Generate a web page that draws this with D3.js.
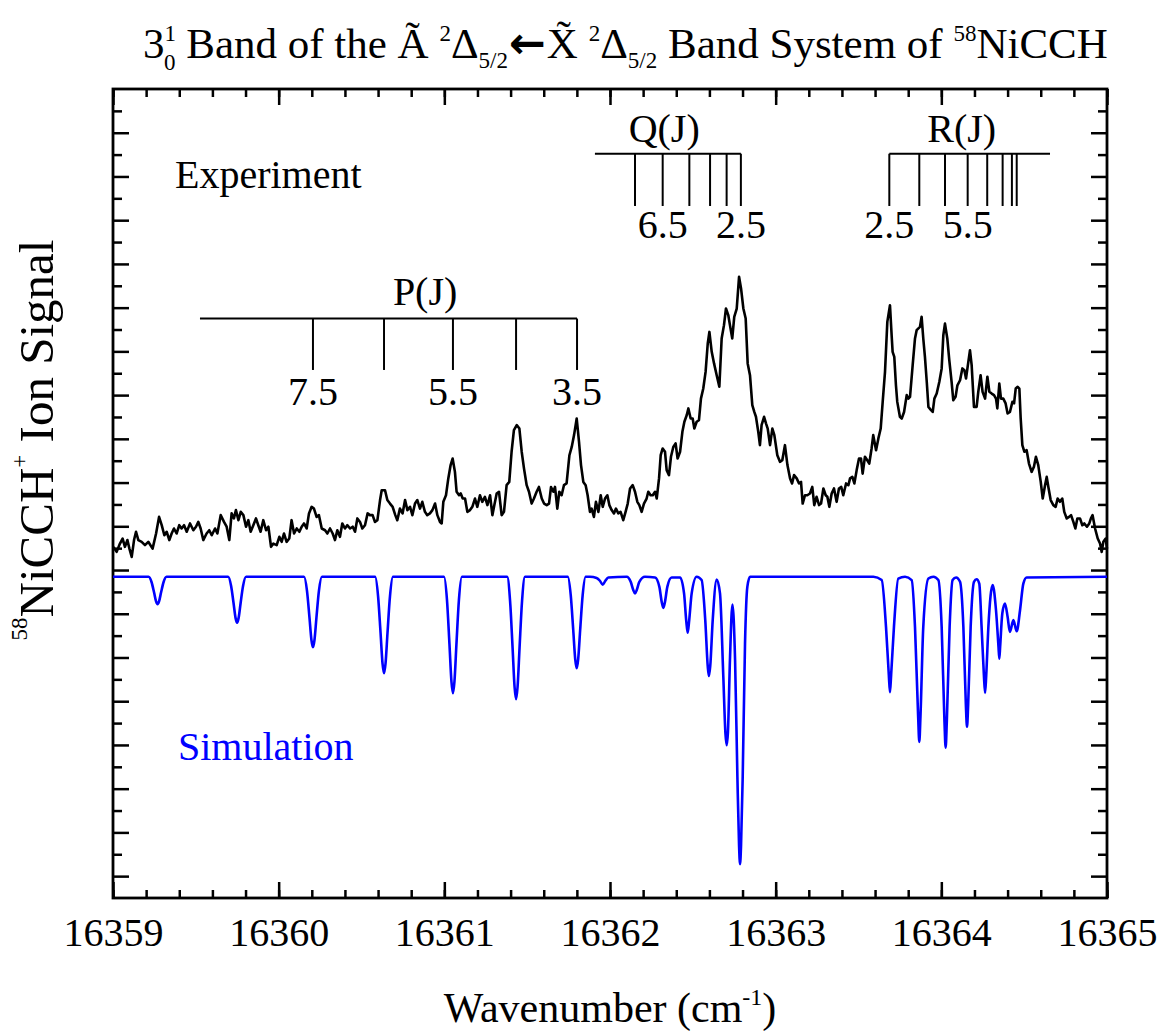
<!DOCTYPE html>
<html><head><meta charset="utf-8">
<script src="https://cdn.jsdelivr.net/npm/d3@7"></script>
<style>
body{margin:0;background:#fff;}
svg text{font-family:"Liberation Serif","Times New Roman",serif;fill:#000;}
</style></head><body>
<svg id="chart" width="1164" height="1033"></svg>
<script>
// ---------------- data ----------------
const xTickValues = [16359, 16360, 16361, 16362, 16363, 16364, 16365];
const xTickLabels = ["16359", "16360", "16361", "16362", "16363", "16364", "16365"];

const expWn = [
16359.002,16359.022,16359.042,16359.058,16359.072,16359.087,16359.099,16359.113,16359.127,16359.139,
16359.153,16359.173,16359.193,16359.213,16359.239,16359.260,16359.278,16359.294,16359.310,16359.324,
16359.340,16359.354,16359.368,16359.384,16359.400,16359.414,16359.429,16359.445,16359.465,16359.485,
16359.501,16359.515,16359.529,16359.545,16359.565,16359.581,16359.596,16359.616,16359.630,16359.650,
16359.670,16359.686,16359.702,16359.716,16359.730,16359.742,16359.757,16359.771,16359.787,16359.803,
16359.817,16359.831,16359.847,16359.863,16359.877,16359.891,16359.907,16359.924,16359.938,16359.954,
16359.968,16359.988,16360.004,16360.018,16360.032,16360.048,16360.064,16360.078,16360.093,16360.109,
16360.125,16360.139,16360.153,16360.169,16360.183,16360.199,16360.213,16360.229,16360.243,16360.260,
16360.280,16360.294,16360.310,16360.326,16360.340,16360.354,16360.370,16360.384,16360.400,16360.414,
16360.431,16360.447,16360.461,16360.475,16360.491,16360.505,16360.521,16360.537,16360.551,16360.567,
16360.581,16360.596,16360.612,16360.622,16360.642,16360.656,16360.672,16360.688,16360.704,16360.716,
16360.732,16360.748,16360.763,16360.777,16360.793,16360.807,16360.823,16360.837,16360.853,16360.867,
16360.883,16360.897,16360.913,16360.928,16360.944,16360.958,
16360.974,16360.984,16360.994,16361.010,16361.024,16361.038,16361.050,16361.064,16361.074,16361.089,
16361.099,16361.111,16361.125,16361.139,16361.155,16361.169,16361.185,16361.199,16361.215,16361.229,
16361.245,16361.260,16361.276,16361.290,16361.302,16361.316,16361.330,16361.346,16361.360,16361.376,
16361.392,16361.406,16361.420,16361.437,16361.453,16361.467,16361.481,16361.497,16361.511,16361.527,
16361.541,16361.557,16361.571,16361.588,16361.602,16361.618,16361.632,16361.644,16361.658,16361.668,
16361.682,16361.694,16361.708,16361.722,16361.738,16361.755,16361.769,16361.783,16361.799,16361.813,
16361.825,16361.839,16361.853,16361.865,16361.879,16361.889,16361.903,16361.915,16361.930,16361.944,
16361.956,16361.970,16361.984,16361.996,16362.010,16362.024,16362.036,16362.050,16362.064,16362.080,
16362.094,16362.107,16362.121,16362.137,16362.151,16362.165,16362.177,16362.191,16362.205,16362.221,
16362.231,16362.245,16362.258,16362.272,16362.282,16362.296,16362.306,16362.318,16362.332,16362.342,
16362.356,16362.368,16362.382,16362.396,16362.408,16362.423,16362.437,16362.449,16362.463,16362.473,
16362.487,16362.499,16362.509,16362.523,16362.537,16362.549,16362.563,16362.577,16362.590,16362.600,
16362.614,16362.628,16362.644,16362.660,16362.674,16362.688,16362.700,16362.714,16362.724,16362.738,
16362.750,16362.765,16362.779,16362.791,16362.805,16362.819,16362.831,16362.845,16362.859,16362.871,
16362.881,16362.895,16362.905,16362.915,16362.930,16362.942,16362.952,16362.966,16362.980,16362.992,
16363.010,16363.026,16363.040,16363.056,16363.071,16363.087,16363.099,16363.111,16363.127,16363.141,
16363.153,16363.163,16363.177,16363.191,16363.207,16363.221,16363.233,16363.247,16363.262,16363.274,
16363.288,16363.302,16363.312,16363.324,16363.338,16363.352,16363.368,16363.382,16363.396,16363.408,
16363.425,16363.439,16363.449,16363.463,16363.475,16363.489,16363.503,16363.515,16363.525,16363.539,
16363.553,16363.565,16363.579,16363.589,16363.606,16363.620,16363.634,16363.646,16363.660,16363.674,
16363.690,16363.700,16363.706,16363.716,16363.726,16363.734,16363.750,16363.761,16363.775,16363.791,
16363.801,16363.811,16363.827,16363.841,16363.851,16363.871,16363.881,16363.891,16363.901,16363.912,
16363.922,16363.938,16363.948,16363.958,16363.972,16363.988,16364.002,16364.012,16364.022,16364.036,
16364.048,16364.062,16364.072,16364.086,16364.097,16364.113,16364.127,16364.139,16364.149,16364.163,
16364.173,16364.183,16364.197,16364.213,16364.223,16364.237,16364.249,16364.264,16364.278,16364.290,
16364.304,16364.318,16364.330,16364.338,16364.350,16364.360,16364.374,16364.388,16364.400,16364.414,
16364.429,16364.439,16364.449,16364.461,16364.471,16364.479,16364.489,16364.501,16364.515,16364.529,
16364.545,16364.559,16364.571,16364.585,16364.600,16364.612,16364.626,16364.636,16364.646,16364.660,
16364.676,16364.690,16364.702,16364.716,16364.730,16364.742,16364.757,16364.771,16364.783,16364.797,
16364.809,16364.821,16364.837,16364.851,16364.863,16364.879,16364.893,16364.903,16364.913,16364.928,
16364.944,16364.958,16364.968,16364.978,16364.992,16365.000
];
const expSignal = [
15.06,14.83,15.21,15.44,15.06,15.37,14.98,14.60,15.37,15.75,
15.37,15.29,15.14,15.29,14.98,15.67,16.43,16.05,15.59,15.75,
15.37,15.67,15.90,15.67,16.05,15.90,16.05,15.75,16.13,15.82,
15.98,16.20,15.90,15.37,15.67,15.82,15.59,15.90,15.67,16.51,
16.20,15.98,15.37,16.59,16.36,16.74,16.28,16.66,16.51,15.98,
16.28,15.75,16.05,16.36,16.05,15.75,16.28,15.82,15.98,15.06,
15.21,15.14,15.52,15.29,15.67,15.29,15.44,16.28,15.67,15.90,
15.75,15.98,16.13,15.90,16.59,16.89,16.81,16.43,16.51,15.90,
15.82,15.67,15.90,15.67,15.37,15.82,15.52,16.13,15.90,16.05,
15.90,15.98,15.75,16.36,16.20,15.90,16.05,16.59,16.51,16.51,
16.20,16.28,17.20,17.65,17.65,17.20,17.04,16.89,16.51,16.28,
16.81,16.59,17.20,16.74,16.89,16.51,17.04,17.20,16.81,17.12,
16.66,16.51,16.59,16.74,17.04,16.51,
16.20,16.13,17.12,17.42,18.19,18.80,19.10,18.49,17.58,17.42,
17.50,17.27,17.27,16.66,16.74,16.89,17.27,16.89,17.42,17.12,
17.35,16.97,17.42,16.51,16.97,17.50,17.58,16.51,16.66,17.88,
18.03,19.41,20.40,20.63,20.47,19.41,18.64,17.88,17.58,17.04,
17.27,17.58,17.80,17.27,17.04,16.97,17.04,17.80,17.58,17.80,
16.81,17.58,17.42,17.88,17.96,19.25,19.63,20.17,20.93,19.86,
18.80,18.03,17.88,17.42,16.66,16.81,16.43,17.12,16.66,17.42,
16.89,17.27,17.42,16.97,16.74,16.59,16.81,16.59,16.66,16.28,
16.66,17.04,17.73,17.88,17.58,17.12,16.97,16.66,17.04,17.27,
17.58,17.42,17.42,17.58,17.27,18.19,19.25,19.56,19.41,18.57,
18.34,19.18,19.63,19.79,19.10,19.41,20.32,20.78,21.08,21.39,
20.93,20.93,20.47,20.78,20.85,21.84,22.30,23.06,24.36,24.89,
23.98,23.45,22.91,22.38,24.59,25.20,25.96,25.66,25.20,24.59,
25.58,25.96,27.41,26.88,25.96,25.50,23.45,22.91,21.54,21.23,
21.01,20.32,19.71,20.63,21.01,20.70,20.47,19.71,20.47,20.17,
19.25,18.95,19.02,19.71,18.80,18.19,17.96,18.34,18.19,17.96,
18.03,17.04,17.42,17.42,17.50,17.80,16.97,17.35,16.97,17.04,
17.73,17.42,17.35,16.89,17.50,17.73,17.12,17.73,17.80,17.42,
17.96,17.88,18.19,18.26,17.96,18.57,19.10,19.10,18.41,19.18,
19.02,18.87,19.56,20.17,19.48,20.02,20.47,21.69,23.06,25.35,
26.11,24.74,23.98,23.75,22.45,21.69,21.01,20.93,21.23,22.00,
21.84,21.92,23.37,24.59,24.97,25.12,25.58,24.59,23.75,22.61,
21.46,21.31,21.23,21.84,22.07,22.61,23.22,24.74,25.27,24.59,
23.60,22.61,21.77,21.92,22.45,22.68,23.22,23.14,22.76,23.52,
24.05,23.37,21.46,21.46,22.15,22.91,22.15,21.84,22.84,22.15,
22.07,22.00,21.84,21.39,22.53,21.84,21.84,21.62,21.16,21.23,
21.69,21.62,22.30,22.38,22.30,20.93,19.71,19.41,19.48,18.87,
18.49,18.72,19.18,18.80,18.03,17.27,17.88,18.26,17.80,17.20,
16.97,16.89,17.27,17.12,17.27,16.66,16.36,16.43,16.51,16.20,
15.90,16.36,16.36,16.05,16.13,15.98,16.13,16.36,16.51,15.90,
15.44,15.21,14.83,15.29,15.44,14.98
];

const simWn = [
16359.000,
16359.215,16359.233,16359.248,16359.260,16359.269,16359.278,16359.290,16359.305,16359.323,
16359.695,16359.713,16359.728,16359.740,16359.749,16359.758,16359.770,16359.785,16359.803,
16360.153,16360.171,16360.186,16360.198,16360.207,16360.216,16360.228,16360.243,16360.261,
16360.582,16360.600,16360.615,16360.627,16360.636,16360.645,16360.657,16360.672,16360.690,
16360.998,16361.016,16361.031,16361.043,16361.052,16361.061,16361.073,16361.088,16361.106,
16361.379,16361.397,16361.412,16361.424,16361.433,16361.442,16361.454,16361.469,16361.487,
16361.745,16361.763,16361.778,16361.790,16361.799,16361.808,16361.820,16361.835,16361.853,
16361.879,16361.919,16361.939,16361.956,16361.972,16361.990,
16362.101,16362.125,16362.140,16362.151,16362.162,16362.177,16362.211,
16362.272,16362.298,16362.312,16362.322,16362.332,16362.346,16362.372,
16362.423,16362.447,16362.460,16362.469,16362.478,16362.493,16362.523,
16362.553,16362.575,16362.590,16362.597,16362.605,16362.620,16362.644,
16362.664,16362.684,16362.697,16362.704,16362.712,16362.724,16362.739,
16362.755,16362.769,16362.779,16362.785,16362.791,16362.801,16362.815,16362.829,16362.845,
16363.590,16363.640,16363.666,16363.683,16363.690,16363.697,16363.714,16363.740,
16363.781,16363.821,16363.841,16363.860,16363.867,16363.874,16363.891,16363.922,
16363.952,16363.982,16364.002,16364.019,16364.026,16364.033,16364.050,16364.068,
16364.089,16364.113,16364.133,16364.148,16364.155,16364.162,16364.177,16364.197,
16364.213,16364.229,16364.243,16364.257,16364.264,16364.271,16364.284,16364.310,
16364.330,16364.345,16364.350,16364.355,16364.368,16364.384,16364.400,16364.414,
16364.435,16364.455,16364.475,16364.495,16364.515,16365.000
];
const simSignal = [
13.69,
13.69,13.44,12.97,12.57,12.44,12.57,12.97,13.44,13.69,
13.69,13.27,12.47,11.80,11.59,11.80,12.47,13.27,13.69,
13.69,13.05,11.82,10.79,10.47,10.79,11.82,13.05,13.69,
13.69,12.81,11.13,9.72,9.28,9.72,11.13,12.81,13.69,
13.69,12.63,10.60,8.90,8.37,8.90,10.60,12.63,13.69,
13.69,12.57,10.44,8.65,8.09,8.65,10.44,12.57,13.69,
13.69,12.85,11.27,9.93,9.51,9.93,11.27,12.85,13.69,
13.69,13.64,13.51,13.33,13.51,13.66,
13.69,13.46,13.10,12.93,13.10,13.46,13.69,
13.66,13.23,12.55,12.27,12.55,13.23,13.66,
13.66,12.93,11.70,11.13,11.70,12.93,13.69,
13.54,11.71,9.60,9.15,9.60,11.71,13.57,
12.93,9.12,6.50,5.99,6.60,9.88,12.42,
9.88,4.54,1.40,0.55,1.40,4.54,10.64,13.23,13.69,
13.69,13.54,11.40,9.20,8.41,9.20,11.40,13.61,
13.69,13.54,11.40,7.30,6.14,7.30,11.40,13.61,
13.69,13.54,11.40,7.05,5.87,7.05,11.40,13.54,
13.66,13.46,11.40,7.86,6.83,7.86,11.40,13.46,
13.58,13.38,11.40,9.18,8.38,9.18,11.40,13.31,
12.16,10.50,9.94,10.50,12.01,12.47,11.86,11.17,
11.71,11.20,12.16,13.38,13.66,13.69
];

// rotational line positions (cm^-1) and their J labels
const pBranchWn = [16360.207, 16360.636, 16361.052, 16361.433, 16361.801];
const pBranchJ  = ["7.5", "", "5.5", "", "3.5"];
const qBranchWn = [16362.151, 16362.318, 16362.479, 16362.604, 16362.704, 16362.790];
const qBranchJ  = ["", "6.5", "", "", "", "2.5"];
const rBranchWn = [16363.686, 16363.867, 16364.022, 16364.159, 16364.277, 16364.370, 16364.426, 16364.455];
const rBranchJ  = ["2.5", "", "", "5.5", "", "", "", ""];
const branchNames = ["P(J)", "Q(J)", "R(J)"];

// ---------------- layout ----------------
const svg = d3.select("#chart");
const L = 113, R = 1107, T = 89, B = 898;
const x = d3.scaleLinear().domain([16359, 16365]).range([L, R]);
const y = d3.scaleLinear().domain([-1, 36]).range([B, T]);
const FONT = '"Liberation Serif","Times New Roman",serif';

// axes (ticks inward)
function styleAxis(g, w) {
  g.select(".domain").remove();
  g.selectAll(".tick line").attr("stroke", "#000").attr("stroke-width", w);
}
const xMinor = x.ticks(30);
svg.append("g").attr("transform", `translate(0,${B})`)
  .call(d3.axisBottom(x).tickValues(xMinor).tickSize(-8).tickFormat(""))
  .call(g => styleAxis(g, 2.5));
svg.append("g").attr("transform", `translate(0,${B})`)
  .call(d3.axisBottom(x).tickValues(xTickValues).tickSize(-16).tickPadding(20)
        .tickFormat((d, i) => xTickLabels[i]))
  .call(g => styleAxis(g, 2.5))
  .call(g => g.selectAll("text").attr("font-family", FONT).attr("font-size", 40).attr("fill", "#000"));
svg.append("g").attr("transform", `translate(0,${T})`)
  .call(d3.axisTop(x).tickValues(xMinor).tickSize(-8).tickFormat(""))
  .call(g => styleAxis(g, 2.5));
svg.append("g").attr("transform", `translate(0,${T})`)
  .call(d3.axisTop(x).tickValues(xTickValues).tickSize(-16).tickFormat(""))
  .call(g => styleAxis(g, 2.5));

const yMajor = d3.range(0, 36, 2);
const yMinor = d3.range(1, 36, 2);
[[L, d3.axisLeft], [R, d3.axisRight]].forEach(([pos, ax]) => {
  svg.append("g").attr("transform", `translate(${pos},0)`)
    .call(ax(y).tickValues(yMajor).tickSize(-16).tickFormat(""))
    .call(g => styleAxis(g, 2.5));
  svg.append("g").attr("transform", `translate(${pos},0)`)
    .call(ax(y).tickValues(yMinor).tickSize(-9).tickFormat(""))
    .call(g => styleAxis(g, 2.5));
});

// frame
svg.append("rect").attr("x", L).attr("y", T).attr("width", R - L).attr("height", B - T)
  .attr("fill", "none").attr("stroke", "#000").attr("stroke-width", 2.8);

// experiment trace
const expData = expWn.map((w, i) => [w, expSignal[i]]);
svg.append("path").datum(expData)
  .attr("fill", "none").attr("stroke", "#000").attr("stroke-width", 2.6)
  .attr("stroke-linejoin", "round")
  .attr("d", d3.line().x(d => x(d[0])).y(d => y(d[1])));

// simulation trace
const simData = simWn.map((w, i) => [w, simSignal[i]]);
svg.append("path").datum(simData)
  .attr("fill", "none").attr("stroke", "#0000ff").attr("stroke-width", 2.6)
  .attr("stroke-linejoin", "round")
  .attr("d", d3.line().curve(d3.curveMonotoneX).x(d => x(d[0])).y(d => y(d[1])));

// branch markers
function branch(name, wns, labels, startWn, endWn, lineY, tickY, labY, nameX, nameY) {
  const g = svg.append("g").attr("stroke", "#000").attr("stroke-width", 2);
  g.append("line").attr("x1", x(startWn)).attr("x2", x(endWn)).attr("y1", y(lineY)).attr("y2", y(lineY));
  g.selectAll("line.t").data(wns).enter().append("line").attr("class", "t")
    .attr("x1", d => x(d)).attr("x2", d => x(d)).attr("y1", y(lineY)).attr("y2", y(tickY));
  svg.append("g").selectAll("text").data(wns).enter().append("text")
    .attr("x", d => x(d)).attr("y", y(labY)).attr("text-anchor", "middle")
    .attr("font-size", 40).text((d, i) => labels[i]);
  svg.append("text").attr("x", x(nameX)).attr("y", y(nameY)).attr("text-anchor", "middle")
    .attr("font-size", 40).text(name);
}
branch(branchNames[0], pBranchWn, pBranchJ, 16359.525, 16361.801, 25.50, 23.15, 21.54, 16360.884, 26.11);
branch(branchNames[1], qBranchWn, qBranchJ, 16361.909, 16362.790, 33.04, 30.65, 29.17, 16362.327, 33.56);
branch(branchNames[2], rBranchWn, rBranchJ, 16363.686, 16364.656, 33.04, 30.65, 29.17, 16364.123, 33.56);

// in-plot labels
svg.append("text").attr("x", x(16359.374)).attr("y", y(31.46)).attr("font-size", 40).text("Experiment");
svg.append("text").attr("x", x(16359.392)).attr("y", y(5.30)).attr("font-size", 40)
  .style("fill", "#0000ff").text("Simulation");

// title
const titleParts = [
  ["3", 43, 0, 0], ["1", 23, 0, -17], ["0", 23, -12, 29],
  [" Band of the \u00C3 ", 43, 0, -12], ["2", 23, 0, -17], ["\u0394", 43, 0, 17],
  ["5/2", 23, 0, 10], ["\u2190", 44, 1, -10, "DejaVu Sans"], ["X\u0303 ", 43, 1, 0],
  ["2", 23, 0, -17], ["\u0394", 43, 0, 17], ["5/2", 23, 0, 10],
  [" Band System of ", 43, 0, -10], ["58", 23, 0, -17], ["NiCCH", 43, 0, 17]
];
const title = svg.append("text").attr("x", 143).attr("y", 58);
titleParts.forEach(([t, fs, dx, dy, ff]) => {
  const s = title.append("tspan").attr("font-size", fs).attr("dx", dx).attr("dy", dy).text(t);
  if (ff) s.style("font-family", ff).style("font-weight", "bold");
});

// y axis title
const yt = svg.append("text").attr("transform", "translate(53,440) rotate(-90)")
  .attr("text-anchor", "middle").attr("font-size", 49);
[["58", 23, -26], ["NiCCH", 49, 26], ["+", 23, -26], [" Ion Signal", 49, 26]].forEach(([t, fs, dy]) => {
  yt.append("tspan").attr("font-size", fs).attr("dy", dy).text(t);
});

// x axis title
const xt = svg.append("text").attr("x", 610).attr("y", 1022).attr("text-anchor", "middle").attr("font-size", 42);
[["Wavenumber (cm", 42, 0], ["-1", 24, -17], [")", 42, 17]].forEach(([t, fs, dy]) => {
  xt.append("tspan").attr("font-size", fs).attr("dy", dy).text(t);
});
</script>
</body></html>
